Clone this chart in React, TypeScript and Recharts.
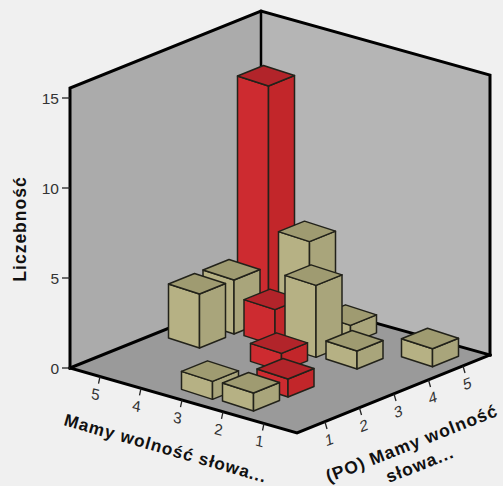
import React from 'react';
import { ScatterChart, Scatter, XAxis, YAxis } from 'recharts';

// ---- data ----
const mamyCategories = [5, 4, 3, 2, 1];
const poCategories = [1, 2, 3, 4, 5];
const countTicks = [0, 5, 10, 15];
const countMax = 15.55;
// [Mamy, PO, count]
const cells: [number, number, number][] = [
  [5, 5, 13], [5, 4, 3], [5, 3, 3],
  [4, 5, 5], [4, 4, 2],
  [3, 5, 1], [3, 4, 4], [3, 3, 1], [3, 1, 1],
  [2, 4, 1], [2, 2, 1], [2, 1, 1],
  [1, 5, 1],
];
const yTitle = 'Liczebność';
const mamyTitle = 'Mamy wolność słowa...';
const poTitle = ['(PO) Mamy wolność', 'słowa...'];

// ---- oblique projection of the floor ----
const W = 503, H = 486;
const AXIS_W = 10, FLOOR_Y = 368, UNIT = 18;
const FRONT = { x: 297, y: 433 };
const LEFT = { x: 70, y: 368 };
const RIGHT = { x: 490, y: 355 };
const BACK = { x: 261, y: 291 };
const A_STEP = { x: -41, y: -11.7 }, A_0 = { x: -33, y: -9.5 };
const B_STEP = { x: 34.5, y: -14 }, B_0 = { x: 28, y: -11 };
const U = { x: 31, y: 10 }, V = { x: 26, y: -10.5 };
const FONT = '"Liberation Sans", Arial, sans-serif';

const elev = (py: number) => (FLOOR_Y - py) / UNIT;
const floorA = (a: number) => ({ x: FRONT.x + A_0.x + A_STEP.x * (a - 1), y: FRONT.y + A_0.y + A_STEP.y * (a - 1) });
const floorB = (b: number) => ({ x: FRONT.x + B_0.x + B_STEP.x * (b - 1), y: FRONT.y + B_0.y + B_STEP.y * (b - 1) });
const cellPoint = (a: number, b: number) => ({
  x: FRONT.x + A_0.x + B_0.x + A_STEP.x * (a - 1) + B_STEP.x * (b - 1),
  y: FRONT.y + A_0.y + B_0.y + A_STEP.y * (a - 1) + B_STEP.y * (b - 1),
});

const barData = cells
  .map(([a, b, count]) => {
    const p = cellPoint(a, b);
    return { a, b, count, px: p.x, ey: elev(p.y) };
  })
  .sort((m, n) => n.a + n.b - (m.a + m.b));

const pts = (l: { x: number; y: number }[]) => l.map((p) => `${p.x},${p.y}`).join(' ');

const Box = (props: any) => {
  const { cx, cy, payload } = props;
  const h = payload.count * UNIT;
  const red = payload.a === payload.b;
  const F = { x: cx + U.x / 2 - V.x / 2, y: cy + U.y / 2 - V.y / 2 };
  const L = { x: F.x - U.x, y: F.y - U.y };
  const R = { x: F.x + V.x, y: F.y + V.y };
  const B = { x: L.x + V.x, y: L.y + V.y };
  const up = (p: { x: number; y: number }) => ({ x: p.x, y: p.y - h });
  const st = { stroke: '#22221a', strokeWidth: 1.5, strokeLinejoin: 'round' as const };
  return (
    <g>
      <polygon points={pts([L, F, up(F), up(L)])} fill={red ? '#cd2b30' : '#b6b184'} {...st} />
      <polygon points={pts([F, R, up(R), up(F)])} fill={red ? '#c2262a' : '#a9a57b'} {...st} />
      <polygon points={pts([up(L), up(F), up(R), up(B)])} fill={red ? '#b2242a' : '#9f9b71'} {...st} />
    </g>
  );
};

// The room is anchored on the floor's back corner.
const Room = (props: any) => {
  const { cx, cy } = props;
  const dx = cx - BACK.x, dy = cy - BACK.y;
  const s = (p: { x: number; y: number }) => ({ x: p.x + dx, y: p.y + dy });
  const wallH = countMax * UNIT;
  const t = (p: { x: number; y: number }) => ({ x: p.x + dx, y: p.y + dy - wallH });
  const line = { stroke: '#000', strokeWidth: 3, strokeLinecap: 'square' as const, fill: 'none' };
  return (
    <g>
      <polygon points={pts([s(LEFT), s(BACK), t(BACK), t(LEFT)])} fill="#ababab" />
      <polygon points={pts([s(BACK), s(RIGHT), t(RIGHT), t(BACK)])} fill="#b5b5b5" />
      <polygon points={pts([s(LEFT), s(FRONT), s(RIGHT), s(BACK)])} fill="#9a9a9a" />
      <polyline points={pts([s(LEFT), s(BACK), s(RIGHT)])} {...line} />
      <line x1={s(BACK).x} y1={s(BACK).y} x2={t(BACK).x} y2={t(BACK).y} {...line} strokeWidth={2.5} />
      <polyline points={pts([s(LEFT), t(LEFT), t(BACK), t(RIGHT), s(RIGHT)])} {...line} />
      <polyline points={pts([s(LEFT), s(FRONT), s(RIGHT)])} {...line} />
    </g>
  );
};

const TickMark = (props: any) => {
  const { cx, cy, payload } = props;
  const left = payload.side === 'a';
  const d = left ? { x: -1.5, y: 7 } : { x: 2, y: 7 };
  const tx = cx + (left ? -5 : 5);
  const ty = cy + 23;
  const m = left ? `matrix(0.96,0.27,-0.12,1,${tx},${ty})` : `matrix(0.93,-0.36,0.14,1,${tx},${ty})`;
  return (
    <g>
      <line x1={cx} y1={cy} x2={cx + d.x} y2={cy + d.y} stroke="#222" strokeWidth={1.3} />
      <text transform={m} textAnchor="middle" fontFamily={FONT} fontSize={15.5} fill="#333">
        {payload.label}
      </text>
    </g>
  );
};

const AxisTitles = (props: any) => {
  const { cx, cy } = props;
  const common = { fontFamily: FONT, fontWeight: 700, fontSize: 17.5, fill: '#111', letterSpacing: 1 };
  return (
    <g>
      <text transform={`translate(${cx - 1},${cy - 1}) rotate(16)`} {...common} fontSize={17.2}>
        {mamyTitle}
      </text>
      <text transform={`translate(${cx + 350},${cy + 23}) rotate(-21.5)`} textAnchor="middle" {...common}>
        {poTitle[0]}
      </text>
      <text transform={`translate(${cx + 358},${cy + 44}) rotate(-21.5)`} textAnchor="middle" {...common}>
        {poTitle[1]}
      </text>
      <text transform={`translate(${cx - 38},${cy - 197}) rotate(-90)`} textAnchor="middle" {...common}>
        {yTitle}
      </text>
    </g>
  );
};

const tickData = [
  ...mamyCategories.map((c) => {
    const p = floorA(c);
    return { side: 'a', label: c, px: p.x, ey: elev(p.y) };
  }),
  ...poCategories.map((c) => {
    const p = floorB(c);
    return { side: 'b', label: c, px: p.x, ey: elev(p.y) };
  }),
];
const roomData = [{ px: BACK.x, ey: elev(BACK.y) }];
const titleData = [{ px: 64, ey: elev(426) }];

export default function App() {
  return (
    <div style={{ position: 'absolute', left: 0, top: 0, width: W, height: H, background: '#f0f0f0', overflow: 'hidden' }}>
      <ScatterChart width={W} height={H} margin={{ top: 0, right: 0, bottom: 0, left: 0 }}>
        <XAxis type="number" dataKey="px" domain={[AXIS_W, W]} hide />
        <YAxis
          type="number"
          dataKey="ey"
          width={AXIS_W}
          domain={[elev(H), elev(0)]}
          ticks={countTicks}
          axisLine={false}
          tickLine={false}
          tick={(p: any) => (
            <g>
              <line x1={62} x2={70} y1={p.y} y2={p.y} stroke="#222" strokeWidth={1.3} />
              <text x={59} y={p.y + 5.5} textAnchor="end" fontFamily={FONT} fontSize={15.5} fill="#333">
                {p.payload.value}
              </text>
            </g>
          )}
        />
        <Scatter data={roomData} shape={Room} isAnimationActive={false} />
        <Scatter data={tickData} shape={TickMark} isAnimationActive={false} />
        <Scatter data={titleData} shape={AxisTitles} isAnimationActive={false} />
        <Scatter data={barData} shape={Box} isAnimationActive={false} />
      </ScatterChart>
    </div>
  );
}
